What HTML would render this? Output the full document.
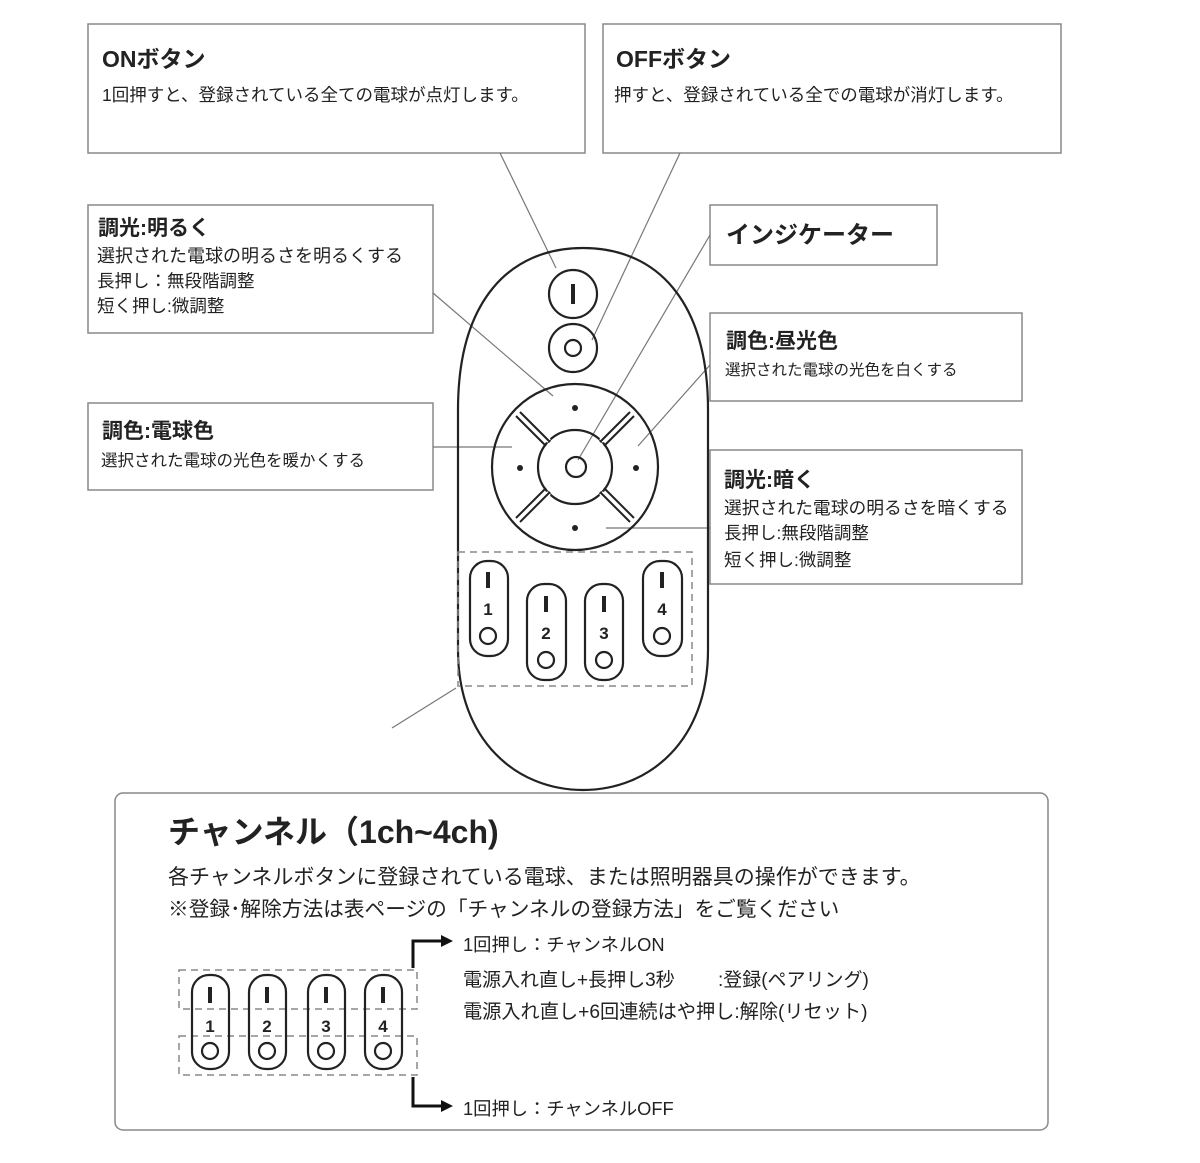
<!DOCTYPE html>
<html><head><meta charset="utf-8"><style>
body{margin:0;background:#fff;}
svg text{font-family:"Liberation Sans","Noto Sans CJK JP",sans-serif;fill:#222;}
.t{font-weight:bold;}
</style></head><body>
<svg width="1200" height="1158" viewBox="0 0 1200 1158" xmlns="http://www.w3.org/2000/svg">
<g fill="none" stroke="#888" stroke-width="1.5">
<rect x="88" y="24" width="497" height="129"/>
<rect x="603" y="24" width="458" height="129"/>
<rect x="88" y="205" width="345" height="128"/>
<rect x="710" y="205" width="227" height="60"/>
<rect x="710" y="313" width="312" height="88"/>
<rect x="88" y="403" width="345" height="87"/>
<rect x="710" y="450" width="312" height="134"/>
<rect x="115" y="793" width="933" height="337" rx="8"/>
</g>
<g stroke="#777" stroke-width="1.2">
<line x1="500" y1="153" x2="556" y2="268"/>
<line x1="680" y1="153" x2="592" y2="340"/>
<line x1="433" y1="293" x2="553" y2="396"/>
<line x1="710" y1="235" x2="578" y2="460"/>
<line x1="710" y1="365" x2="638" y2="446"/>
<line x1="433" y1="447" x2="512" y2="447"/>
<line x1="710" y1="528" x2="606" y2="528"/>
<line x1="456" y1="688" x2="392" y2="728"/>
</g>
<g fill="none" stroke="#222" stroke-width="2.2">
<path d="M458 410 C458 300 510 248 583 248 C656 248 708 300 708 410 L708 650 C708 740 650 790 583 790 C516 790 458 740 458 650 Z"/>
<circle cx="573" cy="294" r="24"/>
<circle cx="573" cy="348" r="24"/>
<circle cx="573" cy="348" r="8"/>
<circle cx="575" cy="467" r="83"/>
<circle cx="575" cy="467" r="37"/>
<circle cx="576" cy="467" r="10"/>
</g>
<g stroke="#fff" stroke-width="5">
<line x1="520" y1="412" x2="549" y2="441"/>
<line x1="630" y1="412" x2="601" y2="441"/>
<line x1="520" y1="522" x2="549" y2="493"/>
<line x1="630" y1="522" x2="601" y2="493"/>
</g>
<g stroke="#222" stroke-width="2">
<line x1="518" y1="414" x2="548" y2="444" transform="translate(2,-2)"/><line x1="518" y1="414" x2="548" y2="444" transform="translate(-2,2)"/>
<line x1="632" y1="414" x2="602" y2="444" transform="translate(-2,-2)"/><line x1="632" y1="414" x2="602" y2="444" transform="translate(2,2)"/>
<line x1="518" y1="520" x2="548" y2="490" transform="translate(-2,-2)"/><line x1="518" y1="520" x2="548" y2="490" transform="translate(2,2)"/>
<line x1="632" y1="520" x2="602" y2="490" transform="translate(2,-2)"/><line x1="632" y1="520" x2="602" y2="490" transform="translate(-2,2)"/>
</g>
<rect x="571" y="284" width="4" height="20" fill="#222"/>
<g fill="#222"><circle cx="575" cy="408" r="3"/><circle cx="520" cy="468" r="3"/><circle cx="636" cy="468" r="3"/><circle cx="575" cy="528" r="3"/></g>
<rect x="458" y="552" width="234" height="134" fill="none" stroke="#888" stroke-width="1.5" stroke-dasharray="7,5"/>
<g fill="none" stroke="#222" stroke-width="2.2">
<rect x="470" y="561" width="38" height="95" rx="17"/>
<rect x="527" y="584" width="39" height="96" rx="17"/>
<rect x="585" y="584" width="38" height="96" rx="17"/>
<rect x="643" y="561" width="39" height="95" rx="17"/>
<circle cx="488" cy="636" r="8"/><circle cx="546" cy="660" r="8"/><circle cx="604" cy="660" r="8"/><circle cx="662" cy="636" r="8"/>
</g>
<g fill="#222"><rect x="486" y="572" width="4" height="16"/><rect x="544" y="596" width="4" height="16"/><rect x="602" y="596" width="4" height="16"/><rect x="660" y="572" width="4" height="16"/></g>
<g class="t" font-size="17" text-anchor="middle"><text x="488" y="615">1</text><text x="546" y="639">2</text><text x="604" y="639">3</text><text x="662" y="615">4</text></g>

<g fill="none" stroke="#888" stroke-width="1.5" stroke-dasharray="7,5">
<rect x="179" y="970" width="238" height="39"/>
<rect x="179" y="1036" width="238" height="39"/>
</g>
<g fill="none" stroke="#222" stroke-width="2.2">
<rect x="192" y="975" width="37" height="94" rx="17"/><rect x="249" y="975" width="37" height="94" rx="17"/><rect x="308" y="975" width="37" height="94" rx="17"/><rect x="365" y="975" width="37" height="94" rx="17"/>
<circle cx="210" cy="1051" r="8"/><circle cx="267" cy="1051" r="8"/><circle cx="326" cy="1051" r="8"/><circle cx="383" cy="1051" r="8"/>
</g>
<g fill="#222"><rect x="208" y="987" width="4" height="16"/><rect x="265" y="987" width="4" height="16"/><rect x="324" y="987" width="4" height="16"/><rect x="381" y="987" width="4" height="16"/></g>
<g class="t" font-size="17" text-anchor="middle"><text x="210" y="1032">1</text><text x="267" y="1032">2</text><text x="326" y="1032">3</text><text x="383" y="1032">4</text></g>
<g stroke="#111" stroke-width="3" fill="none"><path d="M413 968 V941 H443"/><path d="M413 1077 V1106 H443"/></g>
<g fill="#111"><path d="M441 935 L453 941 L441 947Z"/><path d="M441 1100 L453 1106 L441 1112Z"/></g>

<g class="t">
<text x="102" y="67" font-size="23">ONボタン</text>
<text x="616" y="67" font-size="23">OFFボタン</text>
<text x="98" y="235" font-size="21">調光:明るく</text>
<text x="726" y="243" font-size="24">インジケーター</text>
<text x="726" y="348" font-size="21">調色:昼光色</text>
<text x="102" y="438" font-size="21">調色:電球色</text>
<text x="724" y="487" font-size="21">調光:暗く</text>
<text x="168" y="843" font-size="32">チャンネル（1ch~4ch)</text>
</g>
<g font-size="17.5">
<text x="102" y="101" font-size="17.5">1回押すと、登録されている全ての電球が点灯します。</text>
<text x="614" y="101" font-size="17.5">押すと、登録されている全での電球が消灯します。</text>
<text x="97" y="262" font-size="18">選択された電球の明るさを明るくする</text>
<text x="97" y="287">長押し：無段階調整</text>
<text x="97" y="312">短く押し:微調整</text>
<text x="725" y="375" font-size="15.5">選択された電球の光色を白くする</text>
<text x="101" y="466" font-size="16.5">選択された電球の光色を暖かくする</text>
<text x="724" y="514" font-size="17.8">選択された電球の明るさを暗くする</text>
<text x="724" y="539">長押し:無段階調整</text>
<text x="724" y="566">短く押し:微調整</text>
<text x="168" y="884" font-size="21">各チャンネルボタンに登録されている電球、または照明器具の操作ができます。</text>
<text x="168" y="916" font-size="20.7">※登録･解除方法は表ページの「チャンネルの登録方法」をご覧ください</text>
<text x="463" y="951" font-size="18.3">1回押し：チャンネルON</text>
<text x="463" y="986" font-size="19">電源入れ直し+長押し3秒　  　:登録(ペアリング)</text>
<text x="463" y="1018" font-size="19.2">電源入れ直し+6回連続はや押し:解除(リセット)</text>
<text x="463" y="1115" font-size="18.3">1回押し：チャンネルOFF</text>
</g>
</svg>
</body></html>
